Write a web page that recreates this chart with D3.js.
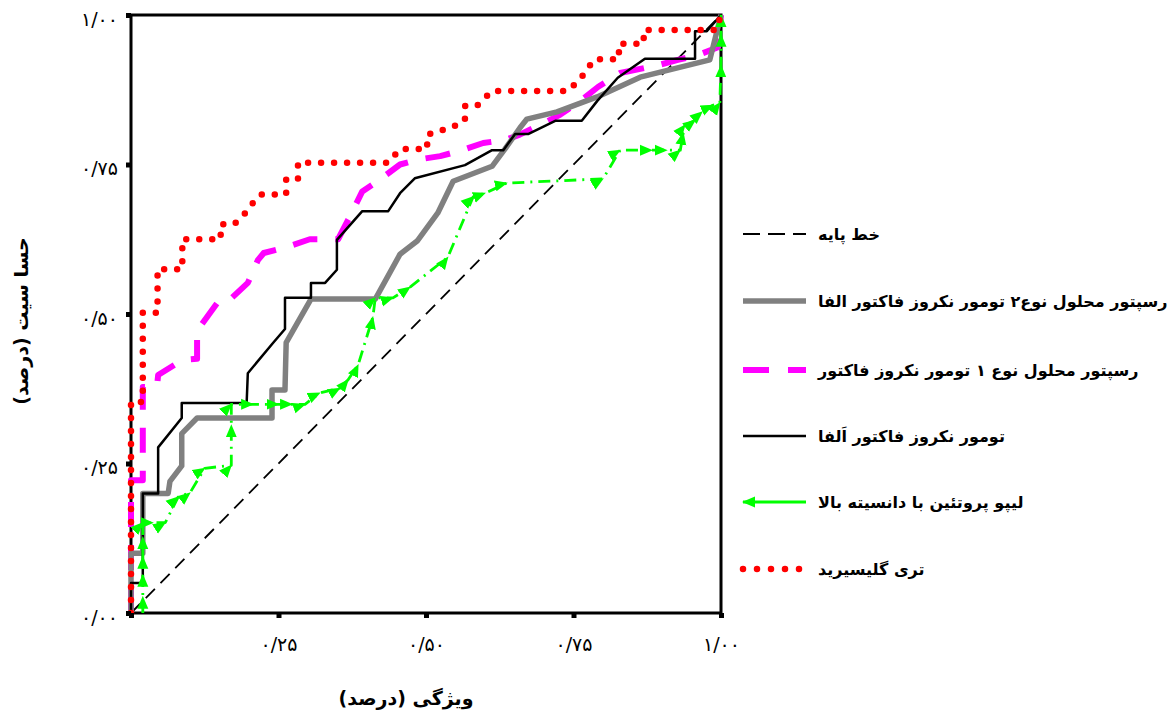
<!DOCTYPE html>
<html>
<head>
<meta charset="utf-8">
<script src="https://cdn.jsdelivr.net/npm/d3@7"></script>
<style>
  body { margin: 0; background: #fff; }
  text { font-family: "DejaVu Sans", sans-serif; }
</style>
</head>
<body>
<svg width="1169" height="718"></svg>
<script>
// ---- data (1 - specificity, sensitivity) ----
const baseline = [[0, 0], [1, 1]];

const tnfr2 = [[0, 0], [0, 0.1], [0.02, 0.1], [0.02, 0.2], [0.063, 0.2], [0.066, 0.22], [0.086, 0.246],
  [0.086, 0.30], [0.112, 0.326], [0.239, 0.326], [0.239, 0.373], [0.261, 0.373], [0.263, 0.452],
  [0.305, 0.525], [0.414, 0.525], [0.456, 0.6], [0.485, 0.622], [0.52, 0.669], [0.546, 0.722],
  [0.612, 0.747], [0.634, 0.776], [0.659, 0.811], [0.671, 0.826], [0.722, 0.838], [0.79, 0.863],
  [0.863, 0.896], [0.981, 0.925], [1, 1]];

const tnfr1 = [[0, 0], [0, 0.222], [0.02, 0.222], [0.02, 0.378], [0.044, 0.378], [0.046, 0.398],
  [0.087, 0.423], [0.112, 0.425], [0.112, 0.472], [0.151, 0.525], [0.171, 0.527], [0.198, 0.552],
  [0.215, 0.59], [0.225, 0.602], [0.264, 0.612], [0.303, 0.625], [0.351, 0.625], [0.371, 0.663],
  [0.392, 0.705], [0.422, 0.725], [0.456, 0.75], [0.485, 0.758], [0.524, 0.764], [0.558, 0.773],
  [0.597, 0.786], [0.634, 0.791], [0.659, 0.8], [0.693, 0.816], [0.727, 0.833], [0.764, 0.858],
  [0.792, 0.88], [0.829, 0.903], [0.893, 0.916], [0.927, 0.925], [0.961, 0.933], [0.995, 0.946], [1, 1]];

const tnfa = [[0, 0], [0, 0.05], [0.02, 0.05], [0.02, 0.2], [0.046, 0.2], [0.046, 0.277], [0.086, 0.326],
  [0.086, 0.351], [0.196, 0.351], [0.198, 0.401], [0.241, 0.452], [0.261, 0.475], [0.261, 0.527],
  [0.305, 0.527], [0.305, 0.552], [0.329, 0.552], [0.349, 0.574], [0.349, 0.624], [0.392, 0.672],
  [0.436, 0.672], [0.456, 0.702], [0.481, 0.727], [0.566, 0.749], [0.612, 0.774], [0.631, 0.774],
  [0.651, 0.801], [0.673, 0.801], [0.719, 0.823], [0.764, 0.823], [0.79, 0.856], [0.825, 0.895],
  [0.871, 0.927], [0.956, 0.927], [0.956, 0.973], [0.976, 0.973], [1, 1]];

const hdl = [[0.02, 0], [0.02, 0.027], [0.02, 0.064], [0.02, 0.094], [0.02, 0.127], [0.02, 0.151],
  [0.037, 0.151], [0.058, 0.151], [0.08, 0.194], [0.1, 0.201], [0.125, 0.242], [0.17, 0.247],
  [0.17, 0.314], [0.17, 0.349], [0.207, 0.349], [0.25, 0.349], [0.273, 0.349], [0.295, 0.349],
  [0.32, 0.368], [0.354, 0.376], [0.368, 0.39], [0.385, 0.415], [0.41, 0.495], [0.414, 0.527],
  [0.444, 0.527], [0.473, 0.545], [0.537, 0.595], [0.58, 0.696], [0.6, 0.702], [0.637, 0.719],
  [0.8, 0.726], [0.829, 0.774], [0.883, 0.774], [0.908, 0.774], [0.931, 0.774], [0.936, 0.803],
  [0.939, 0.816], [0.956, 0.824], [0.968, 0.838], [0.986, 0.849], [0.998, 0.853], [1, 0.916],
  [1, 0.967], [1, 1]];

const tg = [[0, 0], [0, 0.353], [0.02, 0.353], [0.02, 0.502], [0.045, 0.502], [0.045, 0.575],
  [0.087, 0.575], [0.087, 0.625], [0.152, 0.625], [0.152, 0.65], [0.175, 0.65], [0.195, 0.67],
  [0.21, 0.69], [0.22, 0.7], [0.263, 0.7], [0.263, 0.725], [0.283, 0.725], [0.283, 0.753],
  [0.436, 0.753], [0.456, 0.776], [0.502, 0.776], [0.502, 0.8], [0.546, 0.813], [0.566, 0.824],
  [0.566, 0.848], [0.586, 0.848], [0.612, 0.873], [0.741, 0.873], [0.763, 0.895], [0.785, 0.926],
  [0.827, 0.926], [0.827, 0.952], [0.869, 0.952], [0.869, 0.975], [0.992, 0.975], [1, 1]];

const seriesNames = ["خط پایه", "رسپتور محلول نوع۲ تومور نکروز فاکتور الفا",
  "رسپتور محلول نوع ۱ تومور نکروز فاکتور", "تومور نکروز فاکتور اَلفا",
  "لیپو پروتئین با دانسیته بالا", "تری گلیسیرید"];

const yTicks = [0, 0.25, 0.5, 0.75, 1];
const yTickLabels = ["۰/۰۰", "۰/۲۵", "۰/۵۰", "۰/۷۵", "۱/۰۰"];
const xTicks = [0, 0.25, 0.5, 0.75, 1];
const xTickLabels = ["", "۰/۲۵", "۰/۵۰", "۰/۷۵", "۱/۰۰"];
const xTitle = "ویژگی (درصد)";
const yTitle = "حسا سیت (درصد)";

// ---- setup ----
let svg = d3.select("svg");

let x = d3.scaleLinear().domain([0, 1]).range([131, 721]);
let y = d3.scaleLinear().domain([0, 1]).range([613, 15]);

let line = d3.line()
    .x(d => x(d[0]))
    .y(d => y(d[1]));

// arrow head for the green curve
let defs = svg.append("defs");
defs.append("marker")
    .attr("id", "arrow")
    .attr("viewBox", "0 -6 13 12")
    .attr("refX", 12)
    .attr("refY", 0)
    .attr("markerUnits", "userSpaceOnUse")
    .attr("markerWidth", 13)
    .attr("markerHeight", 12)
    .attr("orient", "auto")
    .append("path")
    .attr("d", "M0,-5.5L13,0L0,5.5Z")
    .attr("fill", "#00ff00");

// series styles
const styles = [
    { data: baseline, color: "#000", width: 1.8, dash: "13,8" },
    { data: tnfr2, color: "#808080", width: 5.5, dash: null },
    { data: tnfr1, color: "#ff00ff", width: 6, dash: "25,18" },
    { data: tnfa, color: "#000", width: 2.5, dash: null },
    { data: hdl, color: "#00ff00", width: 2.8, dash: "12,6,2,6", arrow: true },
    { data: tg, color: "#ff0000", width: 6.5, dash: "0,13", round: true }
];

// ---- frame ----
svg.append("rect")
    .attr("x", x(0)).attr("y", y(1))
    .attr("width", x(1) - x(0)).attr("height", y(0) - y(1))
    .attr("fill", "none")
    .attr("stroke", "#000")
    .attr("stroke-width", 3);

// ---- curves ----
let drawOrder = [0, 2, 1, 3, 4, 5];
drawOrder.forEach(i => {
    let s = styles[i];
    let p = svg.append("path")
        .datum(s.data)
        .attr("d", line)
        .attr("fill", "none")
        .attr("stroke", s.color)
        .attr("stroke-width", s.width)
        .attr("stroke-linejoin", "round");
    if (s.dash) p.attr("stroke-dasharray", s.dash);
    if (s.round) p.attr("stroke-linecap", "round");
    if (s.arrow) p.attr("marker-mid", "url(#arrow)").attr("marker-end", "url(#arrow)");
});

// ---- axes ----
let yAxis = svg.append("g")
    .attr("transform", `translate(${x(0)},0)`)
    .call(d3.axisLeft(y).tickValues(yTicks).tickSize(5).tickPadding(8)
        .tickFormat((d, i) => yTickLabels[i]));
let xAxis = svg.append("g")
    .attr("transform", `translate(0,${y(0)})`)
    .call(d3.axisBottom(x).tickValues(xTicks).tickSize(5).tickPadding(20)
        .tickFormat((d, i) => xTickLabels[i]));

[yAxis, xAxis].forEach(a => {
    a.select(".domain").remove();
    a.selectAll(".tick line").attr("stroke", "#000").attr("stroke-width", 5);
    a.selectAll(".tick text")
        .style("font-family", "DejaVu Sans")
        .style("font-size", "19px")
        .attr("fill", "#000");
});
yAxis.selectAll(".tick text").attr("dy", "0.55em");

// axis titles
svg.append("text")
    .attr("x", 406).attr("y", 699)
    .attr("direction", "rtl")
    .attr("text-anchor", "middle")
    .attr("dominant-baseline", "middle")
    .style("font-size", "19px").style("font-weight", "bold")
    .text(xTitle);

svg.append("text")
    .attr("transform", "translate(22,321) rotate(-90)")
    .attr("direction", "rtl")
    .attr("text-anchor", "middle")
    .attr("dominant-baseline", "middle")
    .style("font-size", "19px").style("font-weight", "bold")
    .text(yTitle);

// ---- legend ----
const legendY = [234, 301, 370, 436, 502, 569];
let legend = svg.append("g");
styles.forEach((s, i) => {
    let ly = legendY[i];
    let ln = legend.append("line")
        .attr("x1", 743).attr("x2", 806)
        .attr("y1", ly).attr("y2", ly)
        .attr("stroke", s.color)
        .attr("stroke-width", i == 4 ? 3 : s.width);
    if (i == 0) ln.attr("stroke-dasharray", "17,8");
    if (i == 2) ln.attr("stroke-dasharray", "26,19");
    if (i == 5) ln.attr("stroke-dasharray", "0,14").attr("stroke-linecap", "round").attr("x1", 743).attr("x2", 800);
    if (i == 4) {
        ln.attr("x1", 806).attr("x2", 743).attr("marker-end", "url(#arrow)");
    }
    legend.append("text")
        .attr("x", 818).attr("y", ly + 1)
        .attr("direction", "rtl")
        .attr("text-anchor", "end")
        .attr("dominant-baseline", "middle")
        .style("font-size", "16px").style("font-weight", "bold")
        .text(seriesNames[i]);
});
</script>
</body>
</html>
